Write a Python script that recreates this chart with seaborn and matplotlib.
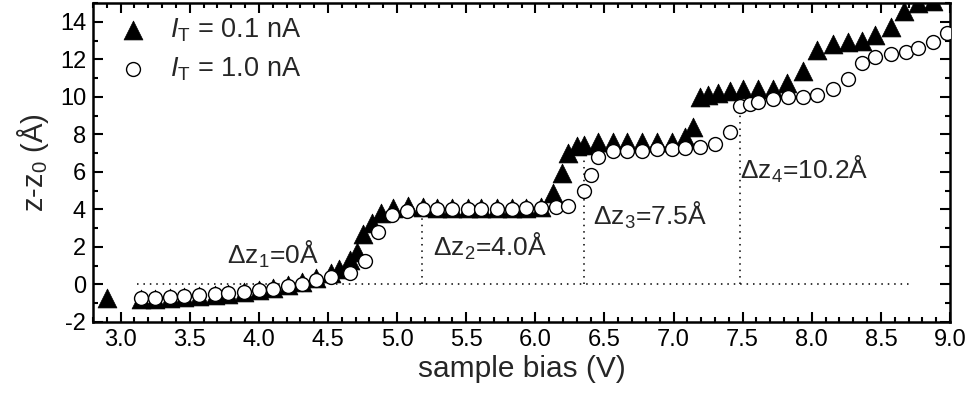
import numpy as np
import pandas as pd
import matplotlib
matplotlib.use("Agg")
import matplotlib.pyplot as plt
import seaborn as sns
from matplotlib.ticker import MultipleLocator

# ---- data ----
tri_x = [2.90, 3.15, 3.25, 3.36, 3.46, 3.57, 3.68, 3.78, 3.89, 4.00, 4.10, 4.21, 4.31, 4.41,
         4.52, 4.58, 4.66, 4.71, 4.75, 4.82, 4.88, 4.97, 5.08, 5.19, 5.29, 5.40, 5.51, 5.61,
         5.72, 5.83, 5.93, 6.04, 6.13, 6.19, 6.24, 6.30, 6.35, 6.45, 6.56, 6.66, 6.77, 6.88,
         6.99, 7.08, 7.14, 7.19, 7.25, 7.32, 7.41, 7.50, 7.61, 7.72, 7.82, 7.94, 8.04, 8.15,
         8.26, 8.36, 8.46, 8.57, 8.67, 8.77, 8.88]
tri_y = [-0.72, -0.78, -0.75, -0.72, -0.67, -0.62, -0.57, -0.50, -0.42, -0.32, -0.20, -0.04,
         0.15, 0.35, 0.62, 0.85, 1.30, 1.73, 2.70, 3.30, 3.80, 4.10, 4.20, 4.15, 4.10, 4.10,
         4.10, 4.10, 4.10, 4.10, 4.10, 4.15, 4.90, 5.95, 7.00, 7.40, 7.45, 7.60, 7.60, 7.60,
         7.60, 7.60, 7.60, 7.85, 8.40, 10.00, 10.10, 10.20, 10.30, 10.40, 10.40, 10.40, 10.75,
         11.40, 12.50, 12.80, 12.90, 13.00, 13.30, 13.70, 14.60, 15.00, 15.10]

circ_x = [3.15, 3.25, 3.36, 3.46, 3.57, 3.68, 3.78, 3.89, 4.00, 4.10, 4.21, 4.31, 4.41, 4.52,
          4.66, 4.77, 4.86, 4.96, 5.07, 5.19, 5.29, 5.40, 5.51, 5.61, 5.72, 5.83, 5.93, 6.04,
          6.15, 6.24, 6.35, 6.40, 6.45, 6.56, 6.66, 6.77, 6.88, 6.99, 7.08, 7.19, 7.30, 7.41,
          7.48, 7.55, 7.61, 7.72, 7.83, 7.94, 8.04, 8.15, 8.26, 8.36, 8.46, 8.57, 8.68, 8.77,
          8.88, 8.98]
circ_y = [-0.70, -0.70, -0.68, -0.63, -0.58, -0.52, -0.47, -0.40, -0.32, -0.22, -0.10, 0.05,
          0.22, 0.40, 0.60, 1.25, 2.80, 3.70, 3.90, 4.00, 4.00, 4.00, 4.00, 4.00, 4.00, 4.00,
          4.05, 4.10, 4.15, 4.20, 5.00, 5.84, 6.80, 7.10, 7.10, 7.10, 7.20, 7.20, 7.25, 7.30,
          7.50, 8.10, 9.50, 9.60, 9.70, 9.90, 10.00, 10.00, 10.10, 10.40, 10.96, 11.80, 12.10,
          12.30, 12.40, 12.60, 12.90, 13.40]

step_x = [3.77, 5.18, 6.35, 7.48]          # annotation anchor x (V)
step_dz = [0.0, 4.0, 7.5, 10.2]            # step heights (Å)
step_labels = [r"$\Delta\mathrm{z}_{1}$=0Å", r"$\Delta\mathrm{z}_{2}$=4.0Å",
               r"$\Delta\mathrm{z}_{3}$=7.5Å", r"$\Delta\mathrm{z}_{4}$=10.2Å"]
label_xy = [(3.77, 1.60), (5.26, 2.05), (6.42, 3.70), (7.48, 6.15)]

x_ticks = [3.0, 3.5, 4.0, 4.5, 5.0, 5.5, 6.0, 6.5, 7.0, 7.5, 8.0, 8.5, 9.0]
y_ticks = [-2, 0, 2, 4, 6, 8, 10, 12, 14]

# ---- style ----
sns.set_theme(style="ticks")
main_font = 'Liberation Sans'
plt.rcParams['font.family'] = [main_font, 'DejaVu Sans']
plt.rcParams['mathtext.fontset'] = 'custom'
plt.rcParams['mathtext.rm'] = main_font
plt.rcParams['mathtext.it'] = main_font + ':italic'
plt.rcParams['mathtext.sf'] = main_font

fig = plt.figure(figsize=(9.73, 4.05), dpi=100)
ax = fig.add_axes([93/973, 1 - 322/405, (950 - 93)/973, (322 - 3)/405])

df_t = pd.DataFrame({"bias": tri_x, "dz": tri_y})
df_c = pd.DataFrame({"bias": circ_x, "dz": circ_y})

# dotted guide lines
ax.plot([3.12, 8.70], [0, 0], color="black", linestyle=(0, (1, 3.2)), linewidth=1.1, zorder=1)
for sx, dz in zip(step_x[1:], step_dz[1:]):
    ax.plot([sx, sx], [0, dz], color="black", linestyle=(0, (1, 3.2)), linewidth=1.1, zorder=1)

sns.scatterplot(data=df_t, x="bias", y="dz", marker="^", s=185, color="black",
                edgecolor="black", linewidth=0.5, ax=ax, zorder=3,
                label=r"$\mathit{I}_{\mathrm{T}}$ = 0.1 nA", clip_on=True)
sns.scatterplot(data=df_c, x="bias", y="dz", marker="o", s=100, color="white",
                edgecolor="black", linewidth=1.0, ax=ax, zorder=4,
                label=r"$\mathit{I}_{\mathrm{T}}$ = 1.0 nA", clip_on=True)

for txt, (tx, ty) in zip(step_labels, label_xy):
    ax.text(tx, ty, txt, fontsize=19, ha="left", va="center", zorder=5)

ax.set_xlim(2.8, 9.0)
ax.set_ylim(-2, 15)
ax.set_xticks(x_ticks)
ax.set_xticklabels([f"{v:.1f}" for v in x_ticks])
ax.set_yticks(y_ticks)
ax.set_yticklabels([str(v) for v in y_ticks])
ax.xaxis.set_minor_locator(MultipleLocator(0.1))
ax.yaxis.set_minor_locator(MultipleLocator(1))
ax.tick_params(which="both", direction="in", top=True, right=True, width=1.5, colors="black",
               labelsize=17)
ax.tick_params(which="major", length=7.5, pad=5)
ax.tick_params(which="minor", length=3.8)
for sp in ax.spines.values():
    sp.set_linewidth(1.8)
    sp.set_color("black")

ax.set_xlabel("sample bias (V)", fontsize=21.5, labelpad=3)
ax.set_ylabel(r"z-z$_{0}$ (Å)", fontsize=21, labelpad=6)

leg = ax.legend(loc="upper left", bbox_to_anchor=(0.006, 1.0), frameon=False, fontsize=19.5,
                handletextpad=0.55, borderaxespad=0.0, labelspacing=0.42, borderpad=0.5,
                handlelength=1.6, markerscale=1.0)

fig.savefig("out.png", dpi=100)
